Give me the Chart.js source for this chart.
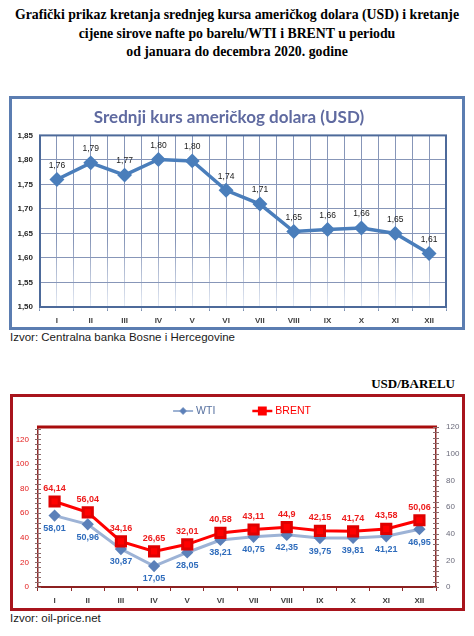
<!DOCTYPE html>
<html>
<head>
<meta charset="utf-8">
<script src="https://cdn.jsdelivr.net/npm/chart.js@4.4.0/dist/chart.umd.min.js"></script>
<style>
  body { margin: 0; background: #fff; width: 474px; height: 636px; position: relative; overflow: hidden; }
  .hdr { position: absolute; left: 0; top: 6px; width: 474px; text-align: center;
         font: bold 13.8px "Liberation Serif", serif; line-height: 18.5px; color: #000; }
  .box { position: absolute; box-sizing: border-box; }
  #box1 { left: 9px; top: 96px; width: 456px; height: 234px; border: 3px solid #5b7db1; }
  #box2 { left: 10px; top: 394px; width: 455px; height: 217px; border: 3px solid #a8141c; }
  canvas { position: absolute; }
  #usdChart { left: 12px; top: 99px; }
  #oilChart { left: 13px; top: 397px; }
  .src { position: absolute; left: 10px; font: 11.5px "Liberation Sans", Arial, sans-serif; color: #1a1a1a; }
  .unit { position: absolute; right: 19px; top: 376px; font: bold 13px "Liberation Serif", serif; color: #000; }
</style>
</head>
<body>

<div class="hdr">Grafički prikaz kretanja srednjeg kursa američkog dolara (USD) i kretanje<br>cijene sirove nafte po barelu/WTI i BRENT u periodu<br>od januara do decembra 2020. godine</div>

<div class="box" id="box1"></div>
<canvas id="usdChart" width="450" height="228"></canvas>
<div class="src" style="top:331px">Izvor: Centralna banka Bosne i Hercegovine</div>

<div class="unit">USD/BARELU</div>
<div class="box" id="box2"></div>
<canvas id="oilChart" width="448" height="211"></canvas>
<div class="src" style="top:612px">Izvor: oil-price.net</div>

<script>
// ------- data -------
const months = ['I', 'II', 'III', 'IV', 'V', 'VI', 'VII', 'VIII', 'IX', 'X', 'XI', 'XII'];
const usdRate = [1.760, 1.794, 1.769, 1.801, 1.798, 1.738, 1.710, 1.654, 1.658, 1.661, 1.650, 1.609];
const wti = [58.01, 50.96, 30.87, 17.05, 28.05, 38.21, 40.75, 42.35, 39.75, 39.81, 41.21, 46.95];
const brent = [64.14, 56.04, 34.16, 26.65, 32.01, 40.58, 43.11, 44.9, 42.15, 41.74, 43.58, 50.06];
const usdTicks = [1.50, 1.55, 1.60, 1.65, 1.70, 1.75, 1.80, 1.85];

const comma = v => String(v).replace('.', ',');

// value labels next to each point
const valueLabels = {
  id: 'valueLabels',
  afterDatasetsDraw(chart) {
    const ctx = chart.ctx;
    chart.data.datasets.forEach((ds, i) => {
      if (!ds.lbl) return;
      const meta = chart.getDatasetMeta(i);
      ctx.save();
      ctx.font = ds.lbl.font;
      ctx.fillStyle = ds.lbl.color;
      ctx.textAlign = 'center';
      ctx.textBaseline = 'middle';
      meta.data.forEach((pt, j) => {
        ctx.fillText(ds.lbl.fmt(ds.data[j]), pt.x + (ds.lbl.dx || 0), pt.y + ds.lbl.dy);
      });
      ctx.restore();
    });
  }
};

// frame round the plot area
const plotFrame = {
  id: 'plotFrame',
  afterDraw(chart, args, opts) {
    const {left, right, top, bottom} = chart.chartArea;
    const ctx = chart.ctx;
    ctx.save();
    if (opts.width) {
      ctx.strokeStyle = opts.color;
      ctx.lineWidth = opts.width;
      ctx.strokeRect(left, top, right - left, bottom - top);
    }
    if (opts.topWidth) {
      ctx.strokeStyle = opts.topColor;
      ctx.lineWidth = opts.topWidth;
      ctx.beginPath();
      ctx.moveTo(left - 1, top);
      ctx.lineTo(right + 1, top);
      ctx.stroke();
    }
    ctx.restore();
  }
};

// small ticks crossing the y axes
const minorTicks = {
  id: 'minorTicks',
  afterDraw(chart, args, opts) {
    if (!opts.step) return;
    const ctx = chart.ctx;
    ctx.save();
    ctx.strokeStyle = opts.color;
    ctx.lineWidth = 1;
    ['y', 'y1'].forEach(id => {
      const sc = chart.scales[id];
      const x = id === 'y' ? chart.chartArea.left : chart.chartArea.right;
      for (let v = sc.min; v <= sc.max; v += opts.step) {
        const y = Math.round(sc.getPixelForValue(v)) + 0.5;
        ctx.beginPath();
        ctx.moveTo(x - 3, y);
        ctx.lineTo(x + 3, y);
        ctx.stroke();
      }
    });
    ctx.restore();
  }
};

// legend drawn as line + marker + text
const lineLegend = {
  id: 'lineLegend',
  afterDraw(chart, args, opts) {
    if (!opts.y) return;
    const ctx = chart.ctx;
    const sets = chart.data.datasets;
    ctx.save();
    ctx.font = opts.font;
    const items = sets.map(ds => ({ds, w: 20 + 3 + ctx.measureText(ds.label).width}));
    const total = items.reduce((s, it) => s + it.w, 0) + opts.gap * (items.length - 1);
    let x = (chart.width - total) / 2 + (opts.shift || 0);
    items.forEach(it => {
      const ds = it.ds;
      ctx.strokeStyle = ds.legendLine || ds.borderColor;
      ctx.lineWidth = ds.legendLineWidth || ds.borderWidth;
      ctx.beginPath();
      ctx.moveTo(x, opts.y);
      ctx.lineTo(x + 20, opts.y);
      ctx.stroke();
      Chart.helpers.drawPoint(ctx, {pointStyle: ds.pointStyle, radius: ds.legendRadius, borderWidth: 1},
        x + 10, opts.y);
      ctx.fillStyle = ds.pointBackgroundColor;
      ctx.fill();
      ctx.fillStyle = ds.legendColor;
      ctx.textBaseline = 'middle';
      ctx.fillText(ds.label, x + 23, opts.y + 0.5);
      x += it.w + opts.gap;
    });
    ctx.restore();
  }
};

// ------- USD chart -------
new Chart(document.getElementById('usdChart'), {
  type: 'line',
  data: {
    labels: months,
    datasets: [{
      label: 'USD',
      data: usdRate,
      xAxisID: 'x',
      borderColor: '#4a7ebb',
      borderWidth: 3.5,
      pointStyle: 'rectRot',
      pointRadius: 5,
      pointBackgroundColor: '#4a7ebb',
      pointBorderColor: '#4a7ebb',
      tension: 0,
      lbl: { font: '8.5px "Liberation Sans Narrow", "Liberation Sans", Arial', color: '#1a1a1a', dy: -14,
             fmt: v => v.toFixed(2).replace('.', ',') }
    }]
  },
  options: {
    responsive: false,
    animation: false,
    layout: { padding: { left: 0, right: 16, top: 0, bottom: 0 } },
    plugins: {
      legend: { display: false },
      tooltip: { enabled: false },
      title: {
        display: true,
        text: 'Srednji kurs američkog dolara (USD)',
        color: '#5f6aa0',
        font: { family: 'Lato', size: 17, weight: 'bold' },
        padding: { top: 8, bottom: 8 }
      },
      plotFrame: { color: '#4d6a9a', width: 2 }
    },
    scales: {
      x: {
        type: 'category',
        offset: true,
        weight: 1,
        grid: {
          offset: false, drawTicks: false, lineWidth: 1,
          color: c => {
            const ca = c.chart.chartArea;
            if (!ca) return '#8796b8';
            const g = c.chart.ctx.createLinearGradient(0, ca.top, 0, ca.bottom);
            g.addColorStop(0, '#8796b8');
            g.addColorStop(0.6, '#8796b8');
            g.addColorStop(1, '#e4eaf4');
            return g;
          }
        },
        border: { display: false },
        ticks: { color: '#404040', font: { family: 'Liberation Sans', size: 8, weight: 'bold' }, padding: 9 },
        afterFit: s => { s.height = 20; }
      },
      x2: {
        type: 'category',
        offset: true,
        weight: 0,
        grid: {
          offset: true, drawTicks: true, tickLength: 4, lineWidth: 1,
          color: c => {
            const ca = c.chart.chartArea;
            if (!ca) return '#8796b8';
            const g = c.chart.ctx.createLinearGradient(0, ca.top, 0, ca.bottom + 4);
            g.addColorStop(0, '#8796b8');
            g.addColorStop(0.6, '#8796b8');
            g.addColorStop(0.97, '#e4eaf4');
            g.addColorStop(1, '#6f84a8');
            return g;
          }
        },
        border: { display: false },
        ticks: { display: false },
        afterFit: s => { s.height = 0; }
      },
      y: {
        min: 1.5,
        max: 1.85,
        afterBuildTicks: s => { s.ticks = usdTicks.map(v => ({value: v})); },
        grid: { color: '#8796b8', drawTicks: false, lineWidth: 1 },
        border: { display: false },
        ticks: {
          color: '#262626', padding: 7,
          font: { family: 'Liberation Sans', size: 8, weight: 'bold' },
          callback: v => v.toFixed(2).replace('.', ',')
        },
        afterFit: s => { s.width = 28; }
      }
    }
  },
  plugins: [valueLabels, plotFrame]
});

// ------- oil chart -------
new Chart(document.getElementById('oilChart'), {
  type: 'line',
  data: {
    labels: months,
    datasets: [{
      label: 'WTI',
      data: wti,
      yAxisID: 'y',
      borderColor: '#9db3d6',
      borderWidth: 3,
      pointStyle: 'rectRot',
      pointRadius: 4,
      pointBackgroundColor: '#5b80b9',
      pointBorderColor: '#5b80b9',
      legendColor: '#56709f',
      legendLine: '#7d98c4',
      legendLineWidth: 1.5,
      legendRadius: 3,
      tension: 0,
      order: 2,
      lbl: { font: 'bold 9px "Liberation Sans", Arial', color: '#2f6cbc', dy: 13, fmt: comma }
    }, {
      label: 'BRENT',
      data: brent,
      yAxisID: 'y1',
      borderColor: '#ff0000',
      borderWidth: 3,
      pointStyle: 'rect',
      pointRadius: 6.5,
      pointBackgroundColor: '#ff0000',
      pointBorderColor: '#e00000',
      legendColor: '#ff0000',
      legendLineWidth: 2.5,
      legendRadius: 4.5,
      tension: 0,
      order: 1,
      lbl: { font: 'bold 9px "Liberation Sans", Arial', color: '#ee1c1c', dy: -13, fmt: comma }
    }]
  },
  options: {
    responsive: false,
    animation: false,
    layout: { padding: { left: 0, right: 0, top: 30, bottom: 0 } },
    plugins: {
      legend: { display: false },
      tooltip: { enabled: false },
      plotFrame: { topColor: '#a80c0c', topWidth: 3 },
      minorTicks: { step: 4, color: '#8a6a6a' },
      lineLegend: { y: 14, gap: 37, font: '10.5px "Liberation Sans", Arial', shift: 5 }
    },
    scales: {
      x: {
        type: 'category',
        offset: true,
        grid: { offset: true, drawOnChartArea: false, drawTicks: true, tickLength: 4, color: '#8c2a2a' },
        border: { color: '#8c2020', width: 2 },
        ticks: { color: '#404040', font: { family: 'Liberation Sans', size: 8, weight: 'bold' }, padding: 5 },
        afterFit: s => { s.height = 21; }
      },
      y: {
        position: 'left',
        min: 0,
        max: 130,
        afterBuildTicks: s => { s.ticks = s.ticks.filter(t => t.value % 20 === 0); },
        grid: { drawOnChartArea: false, drawTicks: false },
        border: { color: '#8c2a2a', width: 1.5 },
        ticks: { stepSize: 20, color: '#e31b1b', padding: 9, font: { family: 'Liberation Sans', size: 8 } },
        afterFit: s => { s.width = 25; }
      },
      y1: {
        position: 'right',
        min: 0,
        max: 120,
        grid: { drawOnChartArea: false, drawTicks: false },
        border: { color: '#8c2a2a', width: 1.5 },
        ticks: { stepSize: 20, color: '#6b6b7b', padding: 10, font: { family: 'Liberation Sans', size: 8 } },
        afterFit: s => { s.width = 25; }
      }
    }
  },
  plugins: [valueLabels, plotFrame, minorTicks, lineLegend]
});
</script>
</body>
</html>
